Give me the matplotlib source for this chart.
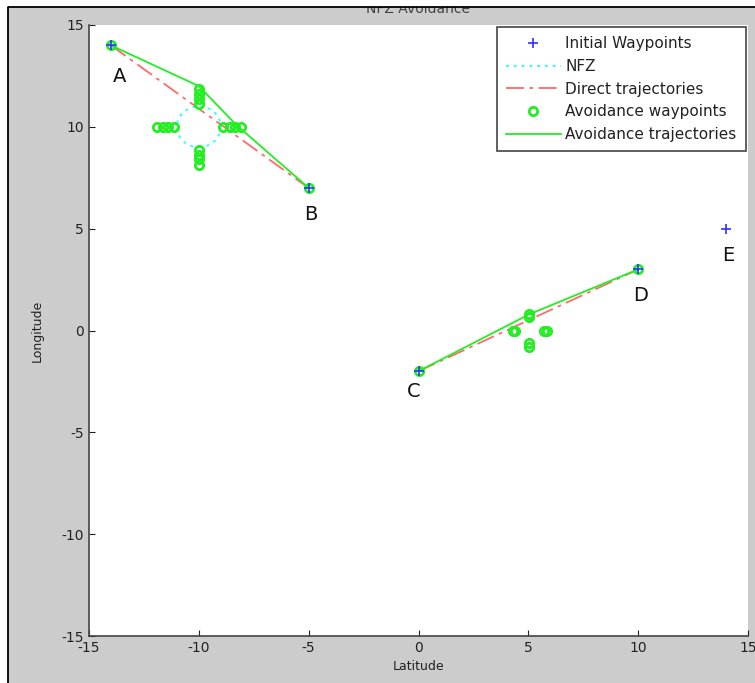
import matplotlib as mpl
mpl.use('Agg')

import matplotlib.pyplot as plt
from matplotlib.patches import Circle, Rectangle
from matplotlib.lines import Line2D

plt.rcParams['axes.unicode_minus'] = False

# initial waypoints
wp_x = [-14, -5, 0, 10, 14]
wp_y = [14, 7, -2, 3, 5]
wp_names = ['A', 'B', 'C', 'D', 'E']
label_x = [-13.6, -4.9, -0.2, 10.1, 14.1]
label_y = [12.45, 5.7, -3.0, 1.7, 3.7]

# no fly zones (centre x, centre y, radius)
nfz_x = [-10]
nfz_y = [10]
nfz_r = [1.0]

# direct trajectories (A->B, C->D)
direct_x = [[-14, -5], [0, 10]]
direct_y = [[14, 7], [-2, 3]]

# avoidance waypoints
avoid_x = [-14, -5, 0, 10,
           -10, -10, -10, -10,
           -11.9, -11.65, -11.4, -11.15,
           -8.9, -8.6, -8.35, -8.1,
           -10, -10, -10, -10,
           5.05, 5.05, 4.3, 4.4, 5.7, 5.85, 5.05, 5.05]
avoid_y = [14, 7, -2, 3,
           11.1, 11.35, 11.6, 11.85,
           10, 10, 10, 10,
           10, 10, 10, 10,
           8.15, 8.4, 8.6, 8.85,
           0.65, 0.8, 0.0, 0.0, 0.0, 0.0, -0.6, -0.8]

# avoidance trajectories
avtraj_x = [[-14, -10, -8.3, -5], [0, 5.05, 10]]
avtraj_y = [[14, 12.0, 10.1, 7], [-2, 0.8, 3]]

W, H = 755, 683
fig = plt.figure(figsize=(W / 100, H / 100), dpi=100)
fig.patch.set_facecolor('white')

# grey matlab figure background with the black crop border
fig.patches.append(Rectangle((7.5 / W, 0), 1, 1 - 7 / H, transform=fig.transFigure,
                             facecolor='#cccccc', edgecolor='none', zorder=-2))
fig.text(418 / W, 1 - 9 / H, 'NFZ Avoidance', ha='center', va='center',
         fontsize=10, color='#444444', zorder=1)
fig.patches.append(Rectangle((0, 1 - 7 / H), 1, 7 / H, transform=fig.transFigure,
                             facecolor='white', edgecolor='none', zorder=2))
fig.lines.append(Line2D([7.5 / W, 7.5 / W, 1], [0, 1 - 7 / H, 1 - 7 / H],
                        transform=fig.transFigure, color='black', lw=1.3, zorder=3))

ax = fig.add_axes([89 / W, 47 / H, 659 / W, 611 / H])

red = '#ff6a6a'
green = '#22ee22'
blue = '#3030ff'
cyan = '#33ffff'

for cx, cy, r in zip(nfz_x, nfz_y, nfz_r):
    ax.add_patch(Circle((cx, cy), r, fill=False, edgecolor=cyan, linestyle=(0, (1.5, 2.5)), lw=1.4))

for xs, ys in zip(direct_x, direct_y):
    ax.plot(xs, ys, color=red, lw=1.3, dashes=(10, 3, 2, 3))

for xs, ys in zip(avtraj_x, avtraj_y):
    ax.plot(xs, ys, color=green, lw=1.3)

ax.plot(avoid_x, avoid_y, 'o', ls='none', mfc='none', mec=green, mew=2.0, ms=6)
ax.plot(wp_x, wp_y, '+', ls='none', color=blue, ms=7, mew=1.2)

for name, lx, ly in zip(wp_names, label_x, label_y):
    ax.text(lx, ly, name, ha='center', va='center', fontsize=14, color='#111111')

ax.set_xlim(-15, 15)
ax.set_ylim(-15, 15)
ax.set_xticks([-15, -10, -5, 0, 5, 10, 15])
ax.set_yticks([-15, -10, -5, 0, 5, 10, 15])
ax.tick_params(direction='in', length=4, labelsize=10, colors='#222222',
               top=False, right=False)
for side in ['top', 'right']:
    ax.spines[side].set_visible(False)
for side in ['left', 'bottom']:
    ax.spines[side].set_color('#444444')
    ax.spines[side].set_linewidth(1.2)
ax.set_xlabel('Latitude', fontsize=9, color='#222222', labelpad=4)
ax.set_ylabel('Longitude', fontsize=9, color='#222222', labelpad=13)

handles = [
    Line2D([], [], ls='none', marker='+', color=blue, ms=7, mew=1.2),
    Line2D([], [], color=cyan, linestyle=(0, (1.5, 2.5)), lw=1.4),
    Line2D([], [], color=red, lw=1.3, dashes=(10, 3, 2, 3)),
    Line2D([], [], ls='none', marker='o', mfc='none', mec=green, mew=2.0, ms=6),
    Line2D([], [], color=green, lw=1.3),
]
labels = ['Initial Waypoints', 'NFZ', 'Direct trajectories',
          'Avoidance waypoints', 'Avoidance trajectories']
leg = ax.legend(handles, labels, loc='upper right', bbox_to_anchor=(1.0, 1.0),
                fontsize=11, fancybox=False, framealpha=1, edgecolor='#444444',
                handlelength=3.6, labelspacing=0.5, borderaxespad=0.15,
                handletextpad=0.3, borderpad=0.6)
leg.get_frame().set_linewidth(1.2)
for t in leg.get_texts():
    t.set_color('#222222')

fig.savefig('out.png', dpi=100)
